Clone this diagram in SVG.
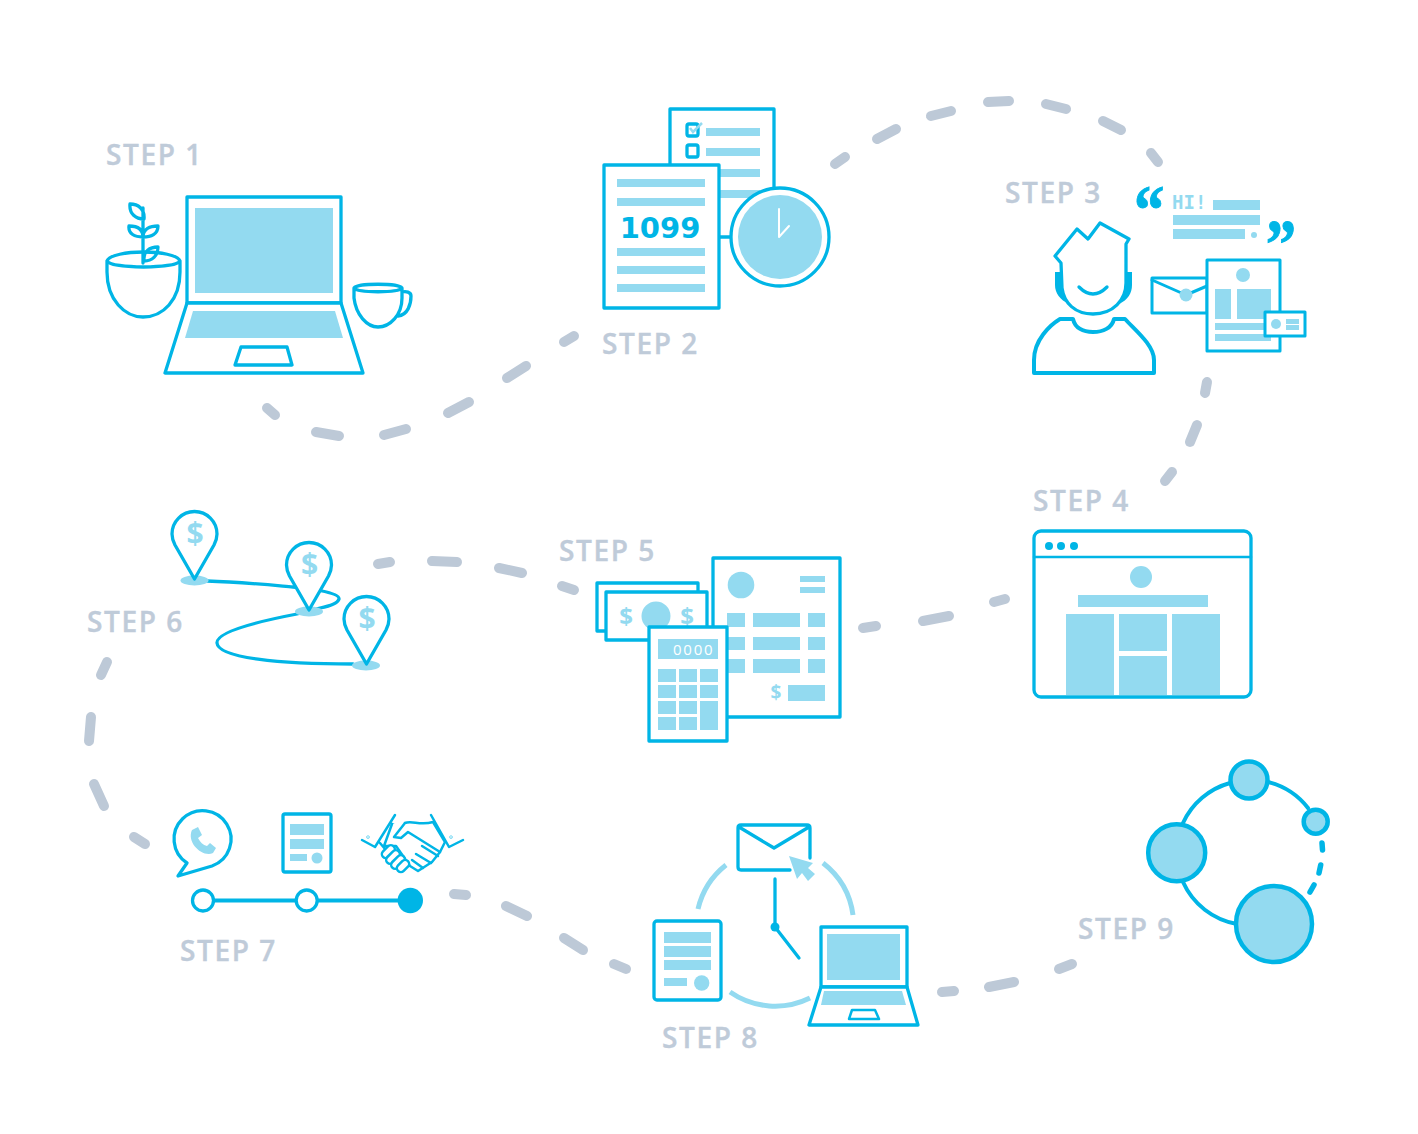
<svg xmlns="http://www.w3.org/2000/svg" width="1418" height="1134" viewBox="0 0 1418 1134">
<style>
.s{fill:#fff;stroke:#00b5e6;stroke-width:3.3;stroke-linejoin:round;stroke-linecap:round}
.n{fill:none;stroke:#00b5e6;stroke-width:3.3;stroke-linejoin:round;stroke-linecap:round}
.l{fill:#93daf0;stroke:none}
.b{fill:#00b5e6;stroke:none}
.a{fill:none;stroke:#93daf0;stroke-width:5}
.o{stroke:#00b5e6;stroke-width:4.5}
.t{font-family:"Open Sans",sans-serif;font-weight:600;font-size:28px;letter-spacing:1.6px;fill:#bfcbd9;stroke:#bfcbd9;stroke-width:.4}
.d{font-family:"Open Sans",sans-serif;font-weight:700;fill:#93daf0;text-anchor:middle}
.q{font-family:"Liberation Serif",serif;font-weight:700;fill:#00b5e6;stroke:#00b5e6;stroke-width:1;font-size:76px}
#connectors line{stroke:#bdc9d7;stroke-width:10;stroke-linecap:round}
</style>
<g id="connectors">
<line x1="267" y1="408" x2="275" y2="415"/><line x1="316" y1="432" x2="339" y2="436"/><line x1="384" y1="435" x2="406" y2="429"/><line x1="448" y1="413" x2="469" y2="402"/><line x1="507" y1="378" x2="526" y2="366"/><line x1="564" y1="342" x2="574" y2="336"/>
<line x1="835" y1="164" x2="845" y2="157"/><line x1="877" y1="139" x2="896" y2="129"/><line x1="931" y1="116" x2="951" y2="111"/><line x1="988" y1="102" x2="1009" y2="101"/><line x1="1046" y1="104" x2="1066" y2="109"/><line x1="1103" y1="121" x2="1121" y2="130"/><line x1="1151" y1="153" x2="1158" y2="162"/>
<line x1="1207" y1="382" x2="1205" y2="393"/><line x1="1197" y1="425" x2="1190" y2="442"/><line x1="1172" y1="472" x2="1165" y2="481"/>
<line x1="1005" y1="599" x2="994" y2="602"/><line x1="949" y1="616" x2="923" y2="621"/><line x1="876" y1="626" x2="863" y2="628"/>
<line x1="574" y1="590" x2="562" y2="586"/><line x1="522" y1="573" x2="499" y2="568"/><line x1="457" y1="562" x2="432" y2="561"/><line x1="390" y1="562" x2="378" y2="564"/>
<line x1="107" y1="662" x2="101" y2="675"/><line x1="91" y1="717" x2="89" y2="741"/><line x1="94" y1="784" x2="104" y2="806"/><line x1="134" y1="837" x2="145" y2="844"/>
<line x1="454" y1="894" x2="466" y2="895"/><line x1="506" y1="906" x2="527" y2="916"/><line x1="564" y1="938" x2="583" y2="950"/><line x1="614" y1="964" x2="626" y2="969"/>
<line x1="942" y1="992" x2="954" y2="991"/><line x1="989" y1="987" x2="1014" y2="982"/><line x1="1059" y1="969" x2="1072" y2="964"/>
</g>
<g id="step1">
<text class="t" x="106" y="165">STEP 1</text>
<path class="n" d="M143 263V208M130 204c8 0 15 5 14 15c-8 0-15-5-14-15zM129 226c8 0 14 3 14 11c-8 0-15-3-14-11zM158 226c-8 0-15 3-15 11c8 0 15-3 15-11zM158 247c-8 0-15 4-14 14c8 0 14-5 14-14z"/>
<path class="n" d="M107 261C112 249 175 249 180 261C175 269 112 269 107 261ZM107 261V272C107 300 125 317 143 317C163 317 180 300 180 272V261"/>
<rect class="s" x="187" y="197" width="154" height="106"/>
<rect class="l" x="195" y="208" width="138" height="85"/>
<path class="s" d="M187 303L165 373H363L341 303Z"/>
<path class="l" d="M193 311H335L343 338H185Z"/>
<path class="s" d="M241 347H287L292 365H235Z"/>
<path class="n" d="M354 288C358 283 398 283 402 288C398 293 358 293 354 288ZM354 288V298C356 315 367 327 378 327C390 327 402 315 402 298V288M402 292C406 291 411 292 411 296C411 304 408 315 398 316"/>
</g>
<g id="step2">
<text class="t" x="602" y="354">STEP 2</text>
<rect class="s" x="670" y="109" width="104" height="128"/>
<rect class="l" x="706" y="128" width="54" height="8"/><rect class="l" x="706" y="148" width="54" height="8"/><rect class="l" x="706" y="169" width="54" height="8"/><rect class="l" x="706" y="190" width="54" height="8"/>
<rect class="n" x="687" y="124" width="11" height="12" rx="2"/><rect class="n" x="687" y="145" width="11" height="12" rx="2"/>
<path fill="none" stroke="#93daf0" stroke-width="2.500" d="M690 128l3 4l9-9"/>
<rect class="s" x="604" y="165" width="115" height="143"/>
<rect class="l" x="617" y="179" width="88" height="8"/><rect class="l" x="617" y="198" width="88" height="8"/><rect class="l" x="617" y="248" width="88" height="8"/><rect class="l" x="617" y="266" width="88" height="8"/><rect class="l" x="617" y="284" width="88" height="8"/>
<text x="660" y="238" text-anchor="middle" font-family="'DejaVu Sans',sans-serif" font-weight="700" font-size="29" fill="#00b5e6">1099</text>
<circle class="s" cx="780" cy="237" r="49"/>
<circle class="l" cx="780" cy="237" r="42"/>
<path fill="none" stroke="#fff" stroke-width="2" stroke-linecap="round" stroke-linejoin="round" d="M779 209V237L789 226"/>
</g>
<g id="step3">
<text class="t" x="1005" y="203">STEP 3</text>
<text class="q" transform="translate(1150 196.500) scale(.8 .92)" x="-20" y="39.500">“</text>
<text class="q" transform="translate(1281 232.500) scale(.8 .92)" x="-19" y="39">”</text>
<text x="1172" y="209" font-family="'DejaVu Sans Mono',monospace" font-weight="700" font-size="19" fill="#93daf0">HI!</text>
<rect class="l" x="1213" y="200" width="47" height="10"/><rect class="l" x="1173" y="215" width="87" height="10"/><rect class="l" x="1173" y="229" width="72" height="10"/><circle class="l" cx="1254" cy="235" r="3"/>
<path class="b" d="M1055 272H1061L1062 288C1064 296 1066 300 1069 304C1060 300 1055 293 1055 285ZM1132 272H1127L1126 288C1124 296 1122 300 1119 304C1128 300 1132 293 1132 285Z"/>
<path class="s" d="M1061 263L1055 256L1077 229L1088 239L1100 223L1129 239L1126 244V283C1126 300 1113 314 1093 314C1075 314 1064 303 1062 288Z"/>
<path class="n" d="M1079 287Q1093 301 1107 287"/>
<path class="s" style="stroke-width:4" d="M1034 373H1154V360C1154 345 1135 330 1125 319H1114C1112 328 1103 332 1093 332C1083 332 1075 328 1073 319H1060C1050 325 1034 340 1034 360Z"/>
<rect class="s" style="stroke-width:3" x="1152" y="278" width="55" height="35"/>
<path class="n" style="stroke-width:3" d="M1152 280L1186 295L1207 286"/><circle class="l" cx="1186" cy="295" r="6.500"/>
<rect class="s" style="stroke-width:3" x="1207" y="260" width="73" height="91"/>
<circle class="l" cx="1243" cy="275" r="7"/><rect class="l" x="1215" y="289" width="16" height="30"/><rect class="l" x="1237" y="289" width="34" height="30"/><rect class="l" x="1215" y="323" width="56" height="7"/><rect class="l" x="1215" y="334" width="56" height="7"/>
<rect class="s" style="stroke-width:3" x="1265" y="312" width="40" height="24"/>
<circle class="l" cx="1276" cy="324" r="5"/><rect class="l" x="1286" y="319" width="13" height="5"/><rect class="l" x="1286" y="325" width="13" height="5"/>
</g>
<g id="step4">
<text class="t" x="1033" y="511">STEP 4</text>
<rect class="s" x="1034" y="531" width="217" height="166" rx="7"/>
<path class="n" style="stroke-width:2.500" d="M1034 557H1251"/>
<circle class="b" cx="1049" cy="546" r="4"/><circle class="b" cx="1061" cy="546" r="4"/><circle class="b" cx="1074" cy="546" r="4"/>
<circle class="l" cx="1141" cy="577" r="11"/><rect class="l" x="1078" y="595" width="130" height="12"/>
<rect class="l" x="1066" y="614" width="48" height="81"/><rect class="l" x="1119" y="614" width="48" height="37"/><rect class="l" x="1119" y="656" width="48" height="39"/><rect class="l" x="1172" y="614" width="48" height="81"/>
</g>
<g id="step5">
<text class="t" x="559" y="561">STEP 5</text>
<rect class="s" x="713" y="558" width="127" height="159"/>
<circle class="l" cx="741" cy="585" r="13.300"/><rect class="l" x="800" y="576" width="25" height="6"/><rect class="l" x="800" y="587" width="25" height="6"/>
<rect class="l" x="727" y="613" width="18" height="14"/><rect class="l" x="753" y="613" width="47" height="14"/><rect class="l" x="808" y="613" width="17" height="14"/>
<rect class="l" x="727" y="637" width="18" height="13"/><rect class="l" x="753" y="637" width="47" height="13"/><rect class="l" x="808" y="637" width="17" height="13"/>
<rect class="l" x="727" y="659" width="18" height="14"/><rect class="l" x="753" y="659" width="47" height="14"/><rect class="l" x="808" y="659" width="17" height="14"/>
<text class="d" x="776" y="699" font-size="19">$</text><rect class="l" x="788" y="685" width="37" height="16"/>
<rect class="s" x="597" y="583" width="101" height="48"/>
<rect class="s" x="606" y="592" width="101" height="48"/>
<circle class="l" cx="656" cy="616" r="14.500"/>
<text class="d" x="626" y="625" font-size="24">$</text><text class="d" x="687" y="625" font-size="24">$</text>
<rect class="s" x="649" y="627" width="78" height="114"/>
<rect class="l" x="658" y="639" width="60" height="20"/>
<text x="714.500" y="655" text-anchor="end" font-family="'Open Sans',sans-serif" font-size="15" letter-spacing="1.800" fill="#fff">0000</text>
<rect class="l" x="658" y="669" width="18" height="13"/><rect class="l" x="679" y="669" width="18" height="13"/><rect class="l" x="700" y="669" width="18" height="13"/>
<rect class="l" x="658" y="685" width="18" height="13"/><rect class="l" x="679" y="685" width="18" height="13"/><rect class="l" x="700" y="685" width="18" height="13"/>
<rect class="l" x="658" y="701" width="18" height="13"/><rect class="l" x="679" y="701" width="18" height="13"/><rect class="l" x="700" y="701" width="18" height="29"/>
<rect class="l" x="658" y="717" width="18" height="13"/><rect class="l" x="679" y="717" width="18" height="13"/>
</g>
<g id="step6">
<text class="t" x="87" y="632">STEP 6</text>
<path class="n" d="M207 581C240 582 270 585 293 587C305 588 340 592 339 599C338 603 330 606 320 608L297 614C250 623 216 633 217 643C218 658 280 664 353 664"/>
<ellipse class="l" cx="194.500" cy="580.500" rx="14" ry="5"/><ellipse class="l" cx="309" cy="611.500" rx="14" ry="5"/><ellipse class="l" cx="366" cy="665.500" rx="14" ry="5"/>
<g id="pin1"><path class="s" d="M194.500 579L175 545C173 541 172 537 172 534A22.500 22.500 0 1 1 217 534C217 538 216 541 214 545Z"/><text class="d" x="195" y="544" font-size="30">$</text></g>
<g id="pin2" transform="translate(114.500 31)"><path class="s" d="M194.500 579L175 545C173 541 172 537 172 534A22.500 22.500 0 1 1 217 534C217 538 216 541 214 545Z"/><text class="d" x="195" y="544" font-size="30">$</text></g>
<g id="pin3" transform="translate(172 85)"><path class="s" d="M194.500 579L175 545C173 541 172 537 172 534A22.500 22.500 0 1 1 217 534C217 538 216 541 214 545Z"/><text class="d" x="195" y="544" font-size="30">$</text></g>
</g>
<g id="step7">
<text class="t" x="180" y="961">STEP 7</text>
<path class="s" d="M187 863L178 876L212 866A28.500 28.500 0 1 0 187 863Z"/>
<path class="l" d="M192 830L198 827L202 835L198 838C200 842 203 845 207 846L210 843L216 848L213 853C203 858 186 843 192 830Z"/>
<rect class="s" x="283" y="814" width="48" height="58" rx="2"/>
<rect class="l" x="290" y="824" width="34" height="11"/><rect class="l" x="290" y="839" width="34" height="10"/><rect class="l" x="290" y="854" width="17" height="7"/><circle class="l" cx="317" cy="858" r="5.500"/>
<g id="handshake" fill="#fff" stroke="#00b5e6" stroke-width="2.500" stroke-linejoin="round" stroke-linecap="round">
<path fill="none" d="M362 840L375 847L395 815M463 840L449 847L431 815M392 824Q400 829 408 826M380 843L385 849"/>
<path d="M405 823C412 820 420 826 433 822L445 842L440 852L432 862L418 871L410 866L396 846L384 846L392 824"/>
<path d="M405 823L394 837L401 838L408 832L440 852M422 846L438 856M416 854L431 863M412 860L423 868"/>
<rect x="381" y="848" width="15" height="8" rx="4" transform="rotate(-45 388 852)"/>
<rect x="385" y="853" width="16" height="8" rx="4" transform="rotate(-45 393 857)"/>
<rect x="390" y="858" width="16" height="8" rx="4" transform="rotate(-45 398 862)"/>
<rect x="396" y="862" width="14" height="8" rx="4" transform="rotate(-45 403 866)"/>
<circle cx="368" cy="837" r=".3"/><circle cx="451" cy="837" r=".3"/>
</g>
<path stroke="#00b5e6" stroke-width="4" d="M203 900.500H410"/>
<circle class="s" cx="203" cy="900.500" r="10.500"/><circle class="s" cx="306.700" cy="900.500" r="10.500"/><circle class="b" cx="410.300" cy="900.500" r="12.700"/>
</g>
<g id="step8">
<text class="t" x="662" y="1048">STEP 8</text>
<path class="n" d="M810 858V828Q810 825 807 825H741Q738 825 738 828V867Q738 870 741 870H790M739 827L774 848L809 827"/>
<path class="l" d="M789 856L813 863L808 868L815 874L808 881L802 873L797 879Z"/>
<path class="n" d="M775 879V927L799 958"/><circle class="b" cx="775" cy="927" r="4.500"/>
<path class="a" d="M726 865A79 79 0 0 0 698 909M823 863A79 79 0 0 1 853 915M730 992A79 79 0 0 0 810 998"/>
<rect class="s" x="654" y="921" width="67" height="79" rx="3"/>
<rect class="l" x="664" y="932" width="47" height="11"/><rect class="l" x="664" y="946" width="47" height="11"/><rect class="l" x="664" y="960" width="47" height="10"/><rect class="l" x="664" y="978" width="23" height="8"/><circle class="l" cx="701.700" cy="983" r="7.700"/>
<rect class="s" x="821" y="927" width="86" height="60"/>
<rect class="l" x="827" y="934" width="73" height="46"/>
<path class="s" d="M821 987L809 1025H918L907 987Z"/>
<path class="l" d="M824 991H902L906 1005H821Z"/>
<path class="s" style="stroke-width:2.500" d="M852 1010H875L879 1019H849Z"/>
</g>
<g id="step9">
<text class="t" x="1078" y="939">STEP 9</text>
<path class="n" style="stroke-width:4" d="M1183 823A73 73 0 0 1 1230 783M1268 782A73 73 0 0 1 1308 808M1183 882A73 73 0 0 0 1237 924"/>
<path class="n" style="stroke-width:5.500" d="M1322 843L1322.500 850M1320.700 865L1319 873M1314 885L1310 892"/>
<circle class="l o" cx="1249" cy="780" r="18.500"/>
<circle class="l o" cx="1315.700" cy="821.700" r="12"/>
<circle class="l o" cx="1176.700" cy="852.700" r="28.500"/>
<circle class="l o" cx="1274" cy="924" r="38"/>
</g>
</svg>
